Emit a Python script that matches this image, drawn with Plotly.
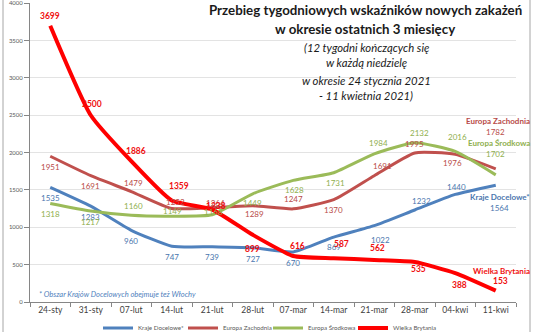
import plotly.graph_objects as go

weeks = ["24-sty", "31-sty", "07-lut", "14-lut", "21-lut", "28-lut",
         "07-mar", "14-mar", "21-mar", "28-mar", "04-kwi", "11-kwi"]
kraje_docelowe = [1535, 1283, 960, 747, 739, 727, 670, 869, 1022, 1232, 1440, 1564]
europa_zachodnia = [1951, 1691, 1479, 1252, 1264, 1289, 1247, 1370, 1691, 1995, 1976, 1782]
europa_srodkowa = [1318, 1217, 1160, 1149, 1168, 1449, 1628, 1731, 1984, 2132, 2016, 1702]
wielka_brytania = [3699, 2500, 1886, 1359, 1238, 899, 616, 587, 562, 535, 388, 153]
series_names = ["Kraje Docelowe*", "Europa Zachodnia", "Europa Środkowa", "Wielka Brytania"]
y_ticks = [0, 500, 1000, 1500, 2000, 2500, 3000, 3500, 4000]

title_lines = ["Przebieg tygodniowych wskaźników nowych zakażeń",
               "w okresie ostatnich 3 miesięcy"]
subtitle_lines = ["(12 tygodni kończących się", "w każdą niedzielę",
                  "w okresie 24 stycznia 2021", "- 11 kwietnia 2021)"]
footnote = "* Obszar Krajów Docelowych obejmuje też Włochy"

# styling
FONT = "Lato"
colors = ["#4F81BD", "#C0504D", "#9BBB59", "#FF0000"]
label_colors = ["#4A76AE", "#B84B48", "#8FAF4E", "#F01010"]
widths = [3, 3, 3, 4]
series = [kraje_docelowe, europa_zachodnia, europa_srodkowa, wielka_brytania]

# per-label pixel offsets (xshift, yshift), last point handled separately
offsets = [
    [(0, -11), (0, -11), (0, -11), (0, -11), (0, -10), (0, -11), (0, -11), (0, -10), (6, -14), (7, 9), (1, 7)],
    [(0, -11), (0, -10), (2, 9), (4, 6), (3, 5), (2, -8), (0, 10), (0, -10), (8, 10), (0, 9), (-3, -9)],
    [(0, -10), (0, -11), (2, 9), (1, 5), (1, 3), (0, -9), (1, -10), (2, -10), (4, 11), (5, 10), (2, 14)],
    [(0, 10), (1, 11), (5, 10), (7, 14), (4, 4), (0, -14), (4, 10), (8, 14), (3, 12), (4, -7), (4, -12)],
]
last_value_shift = [(4, -23), (0, 37), (0, 21), (5, 10)]
last_name_shift = [-12, 48, 32, 20]

fig = go.Figure()
for name, vals, c, w in zip(series_names, series, colors, widths):
    fig.add_trace(go.Scatter(x=weeks, y=vals, mode="lines", name=name,
                             line=dict(color=c, width=w, shape="spline", smoothing=0.5),
                             hoverinfo="skip"))

annotations = []
for i, vals in enumerate(series):
    bold = (i == 3)
    for j, v in enumerate(vals[:-1]):
        dx, dy = offsets[i][j]
        txt = f"<b>{v}</b>" if bold else str(v)
        annotations.append(dict(x=weeks[j], y=v, xref="x", yref="y", text=txt,
                                showarrow=False, xshift=dx, yshift=dy,
                                font=dict(family=FONT, size=8.5 if bold else 8, color=label_colors[i])))
    dx, dy = last_value_shift[i]
    txt = f"<b>{vals[-1]}</b>" if bold else str(vals[-1])
    annotations.append(dict(x=weeks[-1], y=vals[-1], xref="x", yref="y", text=txt,
                            showarrow=False, xshift=dx, yshift=dy,
                            font=dict(family=FONT, size=8.5 if bold else 8, color=label_colors[i])))
    annotations.append(dict(x=weeks[-1], y=vals[-1], xref="x", yref="y",
                            text=f"<b>{series_names[i]}</b>", showarrow=False,
                            xanchor="right", xshift=36, yshift=last_name_shift[i],
                            font=dict(family=FONT, size=8, color=label_colors[i])))

# titles (paper coords; plot area 486 x 299 px starting at (30, 3))
def px_x(px):
    return (px - 30) / 486

def px_y(py):
    return (302 - py) / 299

for k, (line, py) in enumerate(zip(title_lines, [10, 29])):
    annotations.append(dict(x=px_x(365), y=px_y(py), xref="paper", yref="paper",
                            text=f"<b>{line}</b>", showarrow=False, xanchor="center", yanchor="middle",
                            font=dict(family=FONT, size=13.3, color="#1A1A1A")))
for line, py in zip(subtitle_lines, [47, 63, 80, 95]):
    annotations.append(dict(x=px_x(366), y=px_y(py), xref="paper", yref="paper",
                            text=f"<i>{line}</i>", showarrow=False, xanchor="center", yanchor="middle",
                            font=dict(family=FONT, size=11.3, color="#1A1A1A")))
annotations.append(dict(x=px_x(37), y=px_y(294), xref="paper", yref="paper",
                        text=f"<i>{footnote}</i>", showarrow=False, xanchor="left", yanchor="middle",
                        font=dict(family=FONT, size=7.5, color="#4F81BD")))

fig.update_layout(
    width=536, height=332,
    margin=dict(l=30, r=20, t=3, b=30, autoexpand=False),
    paper_bgcolor="white", plot_bgcolor="white",
    showlegend=True,
    legend=dict(orientation="h", x=px_x(268), y=px_y(328), xanchor="center", yanchor="middle",
                font=dict(family=FONT, size=6.2, color="#595959"), itemwidth=30,
                entrywidth=40, entrywidthmode="pixels",
                tracegroupgap=0, bgcolor="rgba(0,0,0,0)"),
    annotations=annotations,
    shapes=[dict(type="rect", xref="paper", yref="paper", x0=px_x(3), x1=px_x(530),
                 y0=px_y(345), y1=px_y(-10), line=dict(color="#A6A6A6", width=1), layer="below")],
    font=dict(family=FONT),
)
fig.update_xaxes(type="category", categoryorder="array", categoryarray=weeks,
                 range=[-0.5, 11.5], tickson="boundaries", ticks="outside", ticklen=4,
                 tickcolor="#868686", showline=True, linecolor="#868686", linewidth=1,
                 showgrid=False, zeroline=False,
                 tickfont=dict(family=FONT, size=8.5, color="#404040"))
fig.update_yaxes(range=[0, 4003], tickvals=y_ticks, ticktext=[str(t) for t in y_ticks],
                 ticks="outside", ticklen=5, tickcolor="#868686", ticklabeloverflow="allow",
                 showline=True, linecolor="#868686", linewidth=1,
                 showgrid=True, gridcolor="#E3E3E3", gridwidth=1, zeroline=False,
                 tickfont=dict(family=FONT, size=6, color="#595959"))

fig.write_html("out.html")
